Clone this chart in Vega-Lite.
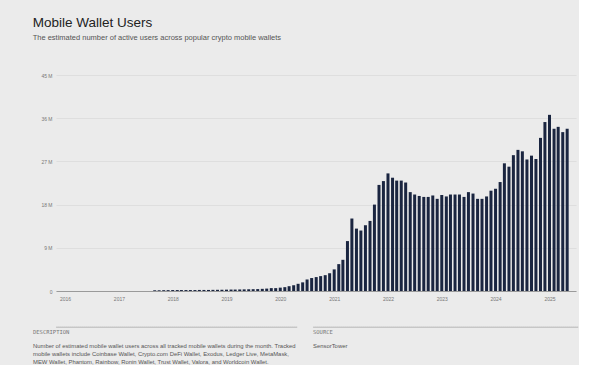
{
  "$schema": "https://vega.github.io/schema/vega-lite/v6.json",
  "background": "#ebebeb",
  "padding": {"left": 32, "top": 16, "right": 0, "bottom": 0},
  "config": {"font": "Liberation Sans"},
  "title": {
    "text": "Mobile Wallet Users",
    "subtitle": "The estimated number of active users across popular crypto mobile wallets",
    "anchor": "start",
    "font": "Liberation Sans",
    "fontSize": 13.5,
    "fontWeight": "normal",
    "color": "#222222",
    "subtitleFont": "Liberation Sans",
    "subtitleFontSize": 7.5,
    "subtitleColor": "#555555",
    "subtitlePadding": 4,
    "offset": 32
  },
  "spacing": 25,
  "vconcat": [
    {
      "width": 520,
      "height": 216,
      "view": {"stroke": null},
      "data": {
        "values": [
          {"month": "2017-09-01", "users": 0.15}, {"month": "2017-10-01", "users": 0.15}, {"month": "2017-11-01", "users": 0.17}, {"month": "2017-12-01", "users": 0.18},
          {"month": "2018-01-01", "users": 0.2}, {"month": "2018-02-01", "users": 0.2}, {"month": "2018-03-01", "users": 0.2}, {"month": "2018-04-01", "users": 0.2},
          {"month": "2018-05-01", "users": 0.2}, {"month": "2018-06-01", "users": 0.2}, {"month": "2018-07-01", "users": 0.22}, {"month": "2018-08-01", "users": 0.22},
          {"month": "2018-09-01", "users": 0.22}, {"month": "2018-10-01", "users": 0.24}, {"month": "2018-11-01", "users": 0.25}, {"month": "2018-12-01", "users": 0.26},
          {"month": "2019-01-01", "users": 0.28}, {"month": "2019-02-01", "users": 0.3}, {"month": "2019-03-01", "users": 0.3}, {"month": "2019-04-01", "users": 0.32},
          {"month": "2019-05-01", "users": 0.34}, {"month": "2019-06-01", "users": 0.36}, {"month": "2019-07-01", "users": 0.38}, {"month": "2019-08-01", "users": 0.4},
          {"month": "2019-09-01", "users": 0.45}, {"month": "2019-10-01", "users": 0.5}, {"month": "2019-11-01", "users": 0.6}, {"month": "2019-12-01", "users": 0.6},
          {"month": "2020-01-01", "users": 0.7}, {"month": "2020-02-01", "users": 0.8}, {"month": "2020-03-01", "users": 1.0}, {"month": "2020-04-01", "users": 1.2},
          {"month": "2020-05-01", "users": 1.5}, {"month": "2020-06-01", "users": 1.8}, {"month": "2020-07-01", "users": 2.4}, {"month": "2020-08-01", "users": 2.7},
          {"month": "2020-09-01", "users": 2.9}, {"month": "2020-10-01", "users": 3.1}, {"month": "2020-11-01", "users": 3.3}, {"month": "2020-12-01", "users": 3.7},
          {"month": "2021-01-01", "users": 4.5}, {"month": "2021-02-01", "users": 5.6}, {"month": "2021-03-01", "users": 6.5}, {"month": "2021-04-01", "users": 10.4},
          {"month": "2021-05-01", "users": 15.1}, {"month": "2021-06-01", "users": 13.0}, {"month": "2021-07-01", "users": 12.6}, {"month": "2021-08-01", "users": 13.7},
          {"month": "2021-09-01", "users": 14.6}, {"month": "2021-10-01", "users": 18.0}, {"month": "2021-11-01", "users": 22.1}, {"month": "2021-12-01", "users": 22.9},
          {"month": "2022-01-01", "users": 24.5}, {"month": "2022-02-01", "users": 23.6}, {"month": "2022-03-01", "users": 23.0}, {"month": "2022-04-01", "users": 23.0},
          {"month": "2022-05-01", "users": 22.6}, {"month": "2022-06-01", "users": 20.6}, {"month": "2022-07-01", "users": 20.1}, {"month": "2022-08-01", "users": 19.8},
          {"month": "2022-09-01", "users": 19.6}, {"month": "2022-10-01", "users": 19.6}, {"month": "2022-11-01", "users": 19.9}, {"month": "2022-12-01", "users": 19.2},
          {"month": "2023-01-01", "users": 20.0}, {"month": "2023-02-01", "users": 19.7}, {"month": "2023-03-01", "users": 20.1}, {"month": "2023-04-01", "users": 20.1},
          {"month": "2023-05-01", "users": 20.1}, {"month": "2023-06-01", "users": 19.6}, {"month": "2023-07-01", "users": 20.6}, {"month": "2023-08-01", "users": 20.3},
          {"month": "2023-09-01", "users": 19.2}, {"month": "2023-10-01", "users": 19.2}, {"month": "2023-11-01", "users": 19.7}, {"month": "2023-12-01", "users": 20.9},
          {"month": "2024-01-01", "users": 21.3}, {"month": "2024-02-01", "users": 22.7}, {"month": "2024-03-01", "users": 26.6}, {"month": "2024-04-01", "users": 25.9},
          {"month": "2024-05-01", "users": 28.3}, {"month": "2024-06-01", "users": 29.4}, {"month": "2024-07-01", "users": 29.1}, {"month": "2024-08-01", "users": 27.4},
          {"month": "2024-09-01", "users": 28.2}, {"month": "2024-10-01", "users": 27.5}, {"month": "2024-11-01", "users": 31.9}, {"month": "2024-12-01", "users": 35.2},
          {"month": "2025-01-01", "users": 36.7}, {"month": "2025-02-01", "users": 33.8}, {"month": "2025-03-01", "users": 34.2}, {"month": "2025-04-01", "users": 33.1},
          {"month": "2025-05-01", "users": 33.8}
        ]
      },
      "mark": {"type": "bar", "width": 3, "color": "#1a2540"},
      "encoding": {
        "x": {
          "field": "month",
          "type": "temporal",
          "scale": {"type": "utc", "domain": [{"year": 2015, "month": 12, "date": 5, "utc": true}, {"year": 2025, "month": 5, "date": 27, "utc": true}]},
          "axis": {
            "title": null,
            "format": "%Y",
            "tickCount": {"interval": "year", "step": 1},
            "grid": false,
            "ticks": false,
            "domainColor": "#9a9a9a",
            "domainWidth": 1,
            "labelFontSize": 5,
            "labelColor": "#777777",
            "labelPadding": 5
          }
        },
        "y": {
          "field": "users",
          "type": "quantitative",
          "scale": {"domain": [0, 45]},
          "axis": {
            "title": " ",
            "titleFontSize": 1,
            "titlePadding": 6,
            "values": [0, 9, 18, 27, 36, 45],
            "labelExpr": "datum.value == 0 ? '0' : datum.value + ' M'",
            "grid": true,
            "gridColor": "#d9d9d9",
            "gridWidth": 0.7,
            "domain": false,
            "ticks": false,
            "labelFontSize": 5,
            "labelColor": "#777777",
            "labelPadding": 4
          }
        }
      }
    },
    {
      "spacing": 14,
      "hconcat": [
        {
          "width": 241,
          "height": 0.01,
          "view": {"stroke": "#9a9a9a", "strokeDash": [1, 1], "strokeWidth": 0.7},
          "data": {"values": []},
          "mark": "point",
          "title": {
            "text": "DESCRIPTION",
            "subtitle": [
              "Number of estimated mobile wallet users across all tracked mobile wallets during the month. Tracked",
              "mobile wallets include Coinbase Wallet, Crypto.com DeFi Wallet, Exodus, Ledger Live, MetaMask,",
              "MEW Wallet, Phantom, Rainbow, Ronin Wallet, Trust Wallet, Valora, and Worldcoin Wallet."
            ],
            "orient": "bottom",
            "anchor": "start",
            "dx": -23,
            "font": "DejaVu Sans Mono",
            "fontSize": 5.5,
            "fontWeight": "normal",
            "color": "#777777",
            "subtitleFont": "Liberation Sans",
            "subtitleFontSize": 5.9,
            "subtitleColor": "#555555",
            "subtitleLineHeight": 8,
            "subtitlePadding": 7,
            "offset": 3
          }
        },
        {
          "width": 265,
          "height": 0.01,
          "view": {"stroke": "#9a9a9a", "strokeDash": [1, 1], "strokeWidth": 0.7},
          "data": {"values": []},
          "mark": "point",
          "title": {
            "text": "SOURCE",
            "subtitle": "SensorTower",
            "orient": "bottom",
            "anchor": "start",
            "font": "DejaVu Sans Mono",
            "fontSize": 5.5,
            "fontWeight": "normal",
            "color": "#777777",
            "subtitleFont": "Liberation Sans",
            "subtitleFontSize": 5.9,
            "subtitleColor": "#555555",
            "subtitleLineHeight": 8,
            "subtitlePadding": 7,
            "offset": 3
          }
        }
      ]
    }
  ]
}
